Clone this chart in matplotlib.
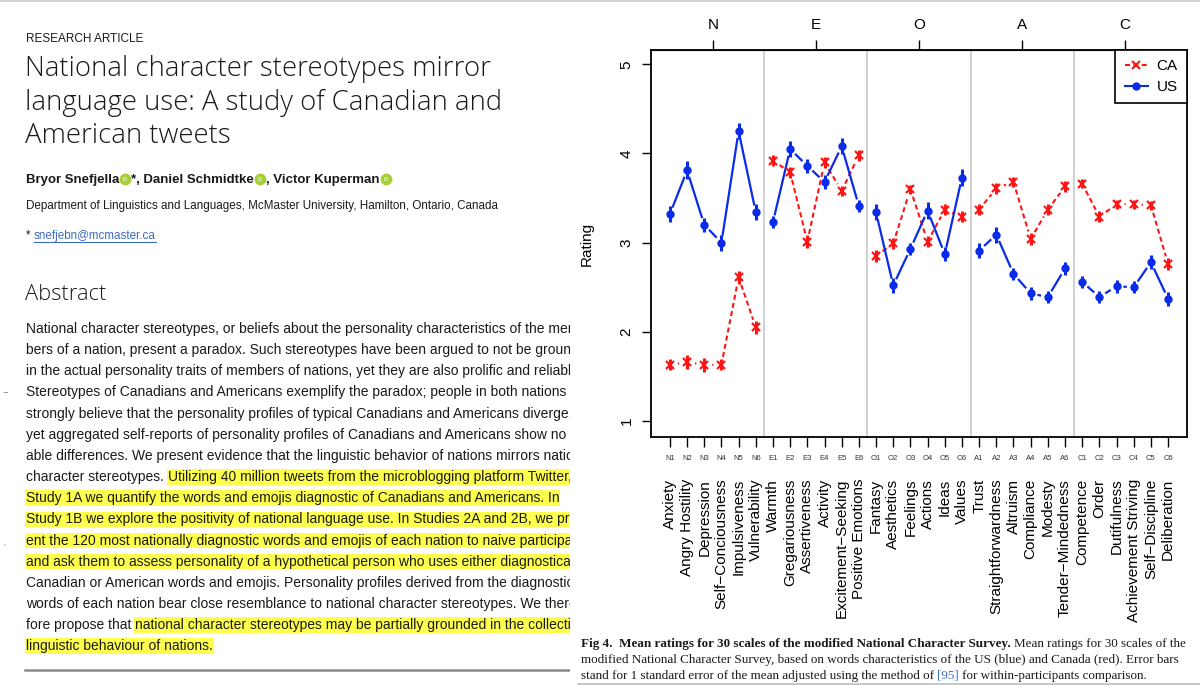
import numpy as np
import matplotlib
matplotlib.use("Agg")
import matplotlib.pyplot as plt
from matplotlib.lines import Line2D
from matplotlib import font_manager

W, H = 1200, 685

# NCS facet codes and names
codes = ["N1", "N2", "N3", "N4", "N5", "N6", "E1", "E2", "E3", "E4", "E5", "E6",
         "O1", "O2", "O3", "O4", "O5", "O6", "A1", "A2", "A3", "A4", "A5", "A6",
         "C1", "C2", "C3", "C4", "C5", "C6"]
scales = ["Anxiety", "Angry Hostility", "Depression", "Self\u2212Conciousness", "Impulsiveness",
          "Vulnerability", "Warmth", "Gregariousness", "Assertiveness", "Activity",
          "Excitement\u2212Seeking", "Positive Emotions", "Fantasy", "Aesthetics", "Feelings",
          "Actions", "Ideas", "Values", "Trust", "Straightforwardness", "Altruism", "Compliance",
          "Modesty", "Tender\u2212Mindedness", "Competence", "Order", "Dutifulness",
          "Achievement Striving", "Self\u2212Discipline", "Deliberation"]
domains = ["N", "E", "O", "A", "C"]

us_mean = [3.32, 3.81, 3.20, 3.00, 4.25, 3.34, 3.23, 4.05, 3.86, 3.68, 4.08, 3.41,
           3.34, 2.52, 2.93, 3.36, 2.87, 3.73, 2.91, 3.09, 2.65, 2.43, 2.39, 2.71,
           2.56, 2.39, 2.51, 2.50, 2.78, 2.37]
us_se = [0.09, 0.10, 0.08, 0.09, 0.09, 0.09, 0.07, 0.09, 0.08, 0.08, 0.09, 0.07,
         0.09, 0.08, 0.07, 0.09, 0.08, 0.09, 0.08, 0.09, 0.07, 0.07, 0.07, 0.07,
         0.07, 0.07, 0.07, 0.07, 0.08, 0.08]
ca_mean = [1.63, 1.66, 1.63, 1.63, 2.61, 2.05, 3.92, 3.79, 3.01, 3.90, 3.58, 3.98,
           2.85, 2.99, 3.60, 3.01, 3.37, 3.29, 3.37, 3.61, 3.68, 3.04, 3.37, 3.63,
           3.66, 3.29, 3.43, 3.43, 3.42, 2.76]
ca_se = [0.06, 0.08, 0.08, 0.06, 0.07, 0.07, 0.06, 0.06, 0.07, 0.06, 0.06, 0.06,
         0.07, 0.06, 0.05, 0.06, 0.06, 0.06, 0.06, 0.06, 0.06, 0.07, 0.06, 0.06,
         0.05, 0.06, 0.05, 0.05, 0.05, 0.07]

# article text (left side), pieces flagged True are highlighted
body_lines = [
    [("National character stereotypes, or beliefs about the personality characteristics of the mem-", False)],
    [("bers of a nation, present a paradox. Such stereotypes have been argued to not be grounded", False)],
    [("in the actual personality traits of members of nations, yet they are also prolific and reliable.", False)],
    [("Stereotypes of Canadians and Americans exemplify the paradox; people in both nations", False)],
    [("strongly believe that the personality profiles of typical Canadians and Americans diverge,", False)],
    [("yet aggregated self-reports of personality profiles of Canadians and Americans show no not-", False)],
    [("able differences. We present evidence that the linguistic behavior of nations mirrors national", False)],
    [("character stereotypes.", False), ("Utilizing 40 million tweets from the microblogging platform Twitter, in", True)],
    [("Study 1A we quantify the words and emojis diagnostic of Canadians and Americans. In", True)],
    [("Study 1B we explore the positivity of national language use. In Studies 2A and 2B, we pres-", True)],
    [("ent the 120 most nationally diagnostic words and emojis of each nation to naive participants", True)],
    [("and ask them to assess personality of a hypothetical person who uses either diagnostically", True)],
    [("Canadian or American words and emojis. Personality profiles derived from the diagnostic", False)],
    [("words of each nation bear close resemblance to national character stereotypes. We there-", False)],
    [("fore propose that", False), ("national character stereotypes may be partially grounded in the collective", True)],
    [("linguistic behaviour of nations.", True)],
]
title_lines = ["National character stereotypes mirror",
               "language use: A study of Canadian and",
               "American tweets"]

installed = {f.name for f in font_manager.fontManager.ttflist}
sans_n = "Liberation Sans Narrow" if "Liberation Sans Narrow" in installed else "Liberation Sans"
serif = "Liberation Serif"

fig = plt.figure(figsize=(W / 100, H / 100), dpi=100)
fig.patch.set_facecolor("white")
r = fig.canvas.get_renderer()


def width(s, size=10, **kw):
    t = fig.text(0, 0, s, fontsize=size, **kw)
    w = t.get_window_extent(r).width
    t.remove()
    return w


def fit(s, target, **kw):
    return 10 * target / width(s, **kw)


def space_w(size, **kw):
    return width("a a", size, **kw) - width("aa", size, **kw)


def put(ax, x, y, s, **kw):
    t = ax.text(x, y, s, va="baseline", **kw)
    return x + t.get_window_extent(r).width


# overlay in pixel coords
ov = fig.add_axes([0, 0, 1, 1])
ov.set_xlim(0, W); ov.set_ylim(H, 0); ov.axis("off")
ov.patch.set_alpha(0)

lax = fig.add_axes([0, 0, 570 / W, 1])
lax.set_xlim(0, 570); lax.set_ylim(H, 0); lax.axis("off")
lax.patch.set_alpha(0)

ov.plot([0, W], [0.8, 0.8], color="#d4d4d4", lw=1.5)

txt = "#1a1a1a"
s_ra = fit("RESEARCH ARTICLE", 117, family=sans_n)
lax.text(26, 41.7, "RESEARCH ARTICLE", fontsize=s_ra, family=sans_n, color=txt, va="baseline", clip_on=True)

s_t = fit(title_lines[0], 464, family="Open Sans", weight="light")
for i, line in enumerate(title_lines):
    lax.text(25, 76 + 33.5 * i, line, fontsize=s_t, family="Open Sans", weight="light",
             color=txt, va="baseline", clip_on=True)

# authors with ORCID dots
s_a = fit("Bryor Snefjella", 94, family=sans_n, weight="bold")
xa = 26
for piece in ["Bryor Snefjella", "*, Daniel Schmidtke", ", Victor Kuperman"]:
    xa = put(lax, xa, 183, piece, fontsize=s_a, family=sans_n, weight="bold", color=txt, clip_on=True)
    lax.scatter([xa + 6], [179], s=55, color="#a6ce39", zorder=3)
    lax.text(xa + 6, 179.5, "iD", fontsize=3.5, color="white", ha="center", va="center", zorder=4)
    xa += 12

dept = "Department of Linguistics and Languages, McMaster University, Hamilton, Ontario, Canada"
s_d = fit(dept, 473, family=sans_n)
lax.text(26, 208.5, dept, fontsize=s_d, family=sans_n, color=txt, va="baseline", clip_on=True)
put(lax, 26, 239, "* ", fontsize=s_d, family=sans_n, color=txt, clip_on=True)
xe2 = put(lax, 34, 239, "snefjebn@mcmaster.ca", fontsize=s_d, family=sans_n, color="#3b6cc4", clip_on=True)
lax.plot([34, xe2], [241.5, 241.5], color="#3b6cc4", lw=0.8)

s_ab = fit("Abstract", 81, family="Open Sans", weight="light")
lax.text(25, 300, "Abstract", fontsize=s_ab, family="Open Sans", weight="light", color=txt,
         va="baseline", clip_on=True)

s_b = fit(body_lines[8][0][0], 535, family=sans_n)
sp = space_w(s_b, family=sans_n)
hl = dict(boxstyle="square,pad=0.06", fc="#ffff4d", ec="none")
for i, pieces in enumerate(body_lines):
    y = 333 + 21.15 * i
    xb = 26
    for s, on in pieces:
        kw = dict(fontsize=s_b, family=sans_n, color=txt, clip_on=True)
        if on:
            kw["bbox"] = hl
        xb = put(lax, xb, y, s, **kw) + sp

ov.text(2, 392, "\u2013", fontsize=8, color="#888888", va="center")
ov.text(3, 546, "'", fontsize=5, color="#888888", va="center")
lax.plot([25, 570], [670, 670], color="#8a8a8a", lw=1.8)

# caption
cap1_b = "Fig 4.  Mean ratings for 30 scales of the modified National Character Survey."
cap1_r = "Mean ratings for 30 scales of the"
cap2 = ("modified National Character Survey, based on words characteristics of the US (blue) "
        "and Canada (red). Error bars")
cap3a = "stand for 1 standard error of the mean adjusted using the method of"
w1 = (width(cap1_b, family=serif, weight="bold") + width(" " + cap1_r, family=serif))
s_c = min(10 * 608 / w1, fit(cap2, 614, family=serif))
csp = space_w(s_c, family=serif)
ck = dict(fontsize=s_c, family=serif, color=txt)
xc = put(ov, 581, 647, cap1_b, weight="bold", **ck) + csp
put(ov, xc, 647, cap1_r, **ck)
put(ov, 581, 663, cap2, **ck)
xc = put(ov, 581, 679, cap3a, **ck) + csp
xc = put(ov, xc, 679, "[95]", fontsize=s_c, family=serif, color="#3b6cc4") + csp
put(ov, xc, 679, "for within-participants comparison.", **ck)
ov.plot([578, W], [684, 684], color="#bdbdbd", lw=1.2)

# chart
plt.rcParams["font.family"] = "Liberation Sans"
red, blue = "#ff1414", "#0a2be8"
ax = fig.add_axes([651 / W, 1 - 437 / H, (1187 - 651) / W, (437 - 50) / H])
x = np.arange(len(codes))
ax.set_xlim(-1.1, 30.1)
ax.set_ylim(0.82, 5.16)
for b in [5.5, 11.5, 17.5, 23.5]:
    ax.axvline(b, color="#c8c8c8", lw=1.2, zorder=0)


def gapped(xs, ys, gap=8):
    # R type="b": segments stop short of the points, one line per domain
    fwd, inv = ax.transData, ax.transData.inverted()
    px, py = [], []
    for g in range(5):
        for i in range(6 * g, 6 * g + 5):
            p0 = fwd.transform((xs[i], ys[i]))
            p1 = fwd.transform((xs[i + 1], ys[i + 1]))
            d = p1 - p0
            L = np.hypot(*d)
            if L <= 2 * gap:
                continue
            u = d / L
            a = inv.transform(p0 + u * gap)
            b = inv.transform(p1 - u * gap)
            px += [a[0], b[0], np.nan]
            py += [a[1], b[1], np.nan]
    return px, py


cx, cy = gapped(x, ca_mean)
ax.plot(cx, cy, color=red, lw=1.5, ls=(0, (2.4, 1.6)))
ux, uy = gapped(x, us_mean)
ax.plot(ux, uy, color=blue, lw=1.6)
ax.errorbar(x, ca_mean, yerr=ca_se, fmt="none", ecolor=red, elinewidth=2.2, capsize=0)
ax.errorbar(x, us_mean, yerr=us_se, fmt="none", ecolor=blue, elinewidth=2.2, capsize=0)
ax.plot(x, ca_mean, ls="none", marker="x", ms=5.5, mew=1.6, color=red)
ax.plot(x, us_mean, ls="none", marker="o", ms=5, color=blue)

for sp_ in ax.spines.values():
    sp_.set_linewidth(1.3)
ax.set_yticks([1, 2, 3, 4, 5], labels=["1", "2", "3", "4", "5"])
ax.tick_params(axis="y", length=6.5, width=1, labelsize=11, pad=6, labelrotation=90)
for lb in ax.get_yticklabels():
    lb.set_va("center")
ax.set_xticks(x, labels=codes)
ax.tick_params(axis="x", length=7, width=1, labelsize=5.5, pad=6, labelcolor="#333333")
top = ax.secondary_xaxis("top")
top.set_xticks([2.5, 8.5, 14.5, 20.5, 26.5], labels=domains)
top.tick_params(length=7, width=1, labelsize=11, pad=6)
for i, name in enumerate(scales):
    ax.text(i, -0.108, name, transform=ax.get_xaxis_transform(), rotation=90,
            ha="center", va="top", fontsize=11)
ax.set_ylabel("Rating", fontsize=11)
ax.yaxis.set_label_coords(-0.106, 0.5)

h_ca = Line2D([], [], color=red, lw=1.5, ls=(0, (2.4, 1.6)), marker="x", ms=6, mew=1.5)
h_us = Line2D([], [], color=blue, lw=1.5, marker="o", ms=5)
leg = ax.legend([h_ca, h_us], ["CA", "US"], loc="upper right", borderaxespad=0, fancybox=False,
                framealpha=1, edgecolor="black", fontsize=11, handlelength=1.5,
                handletextpad=0.6, labelspacing=0.45, borderpad=0.6)
leg.get_frame().set_linewidth(1.2)

fig.savefig("out.png", dpi=100, facecolor="white")
